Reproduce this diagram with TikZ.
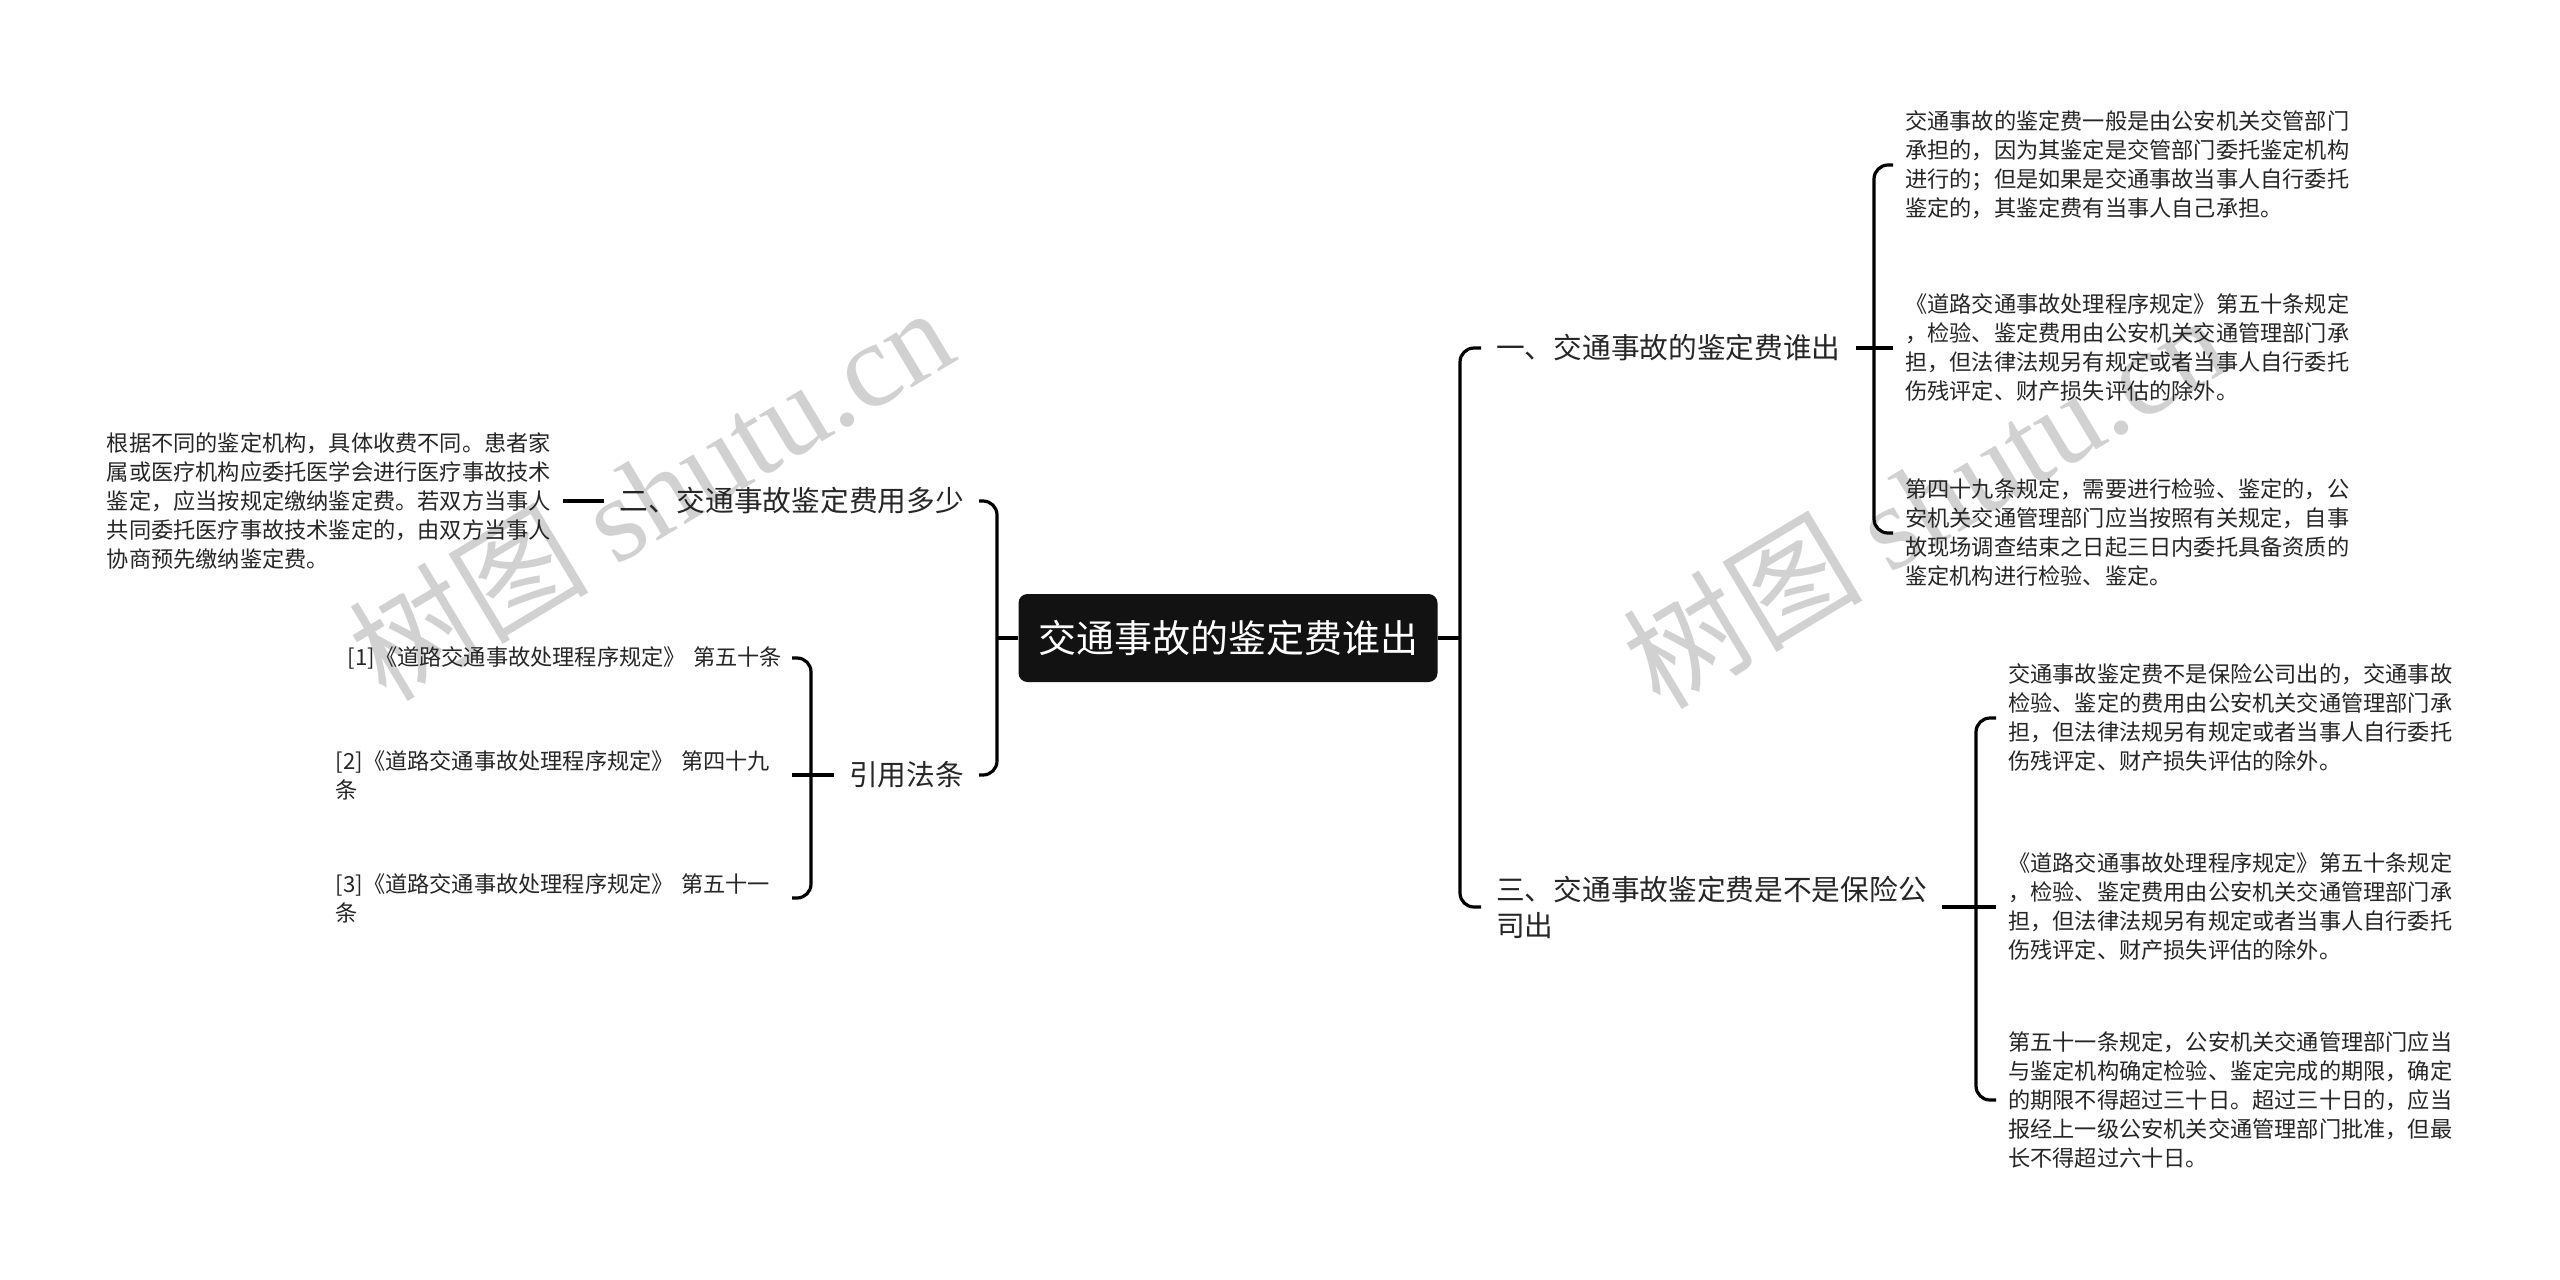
\documentclass[tikz,border=0pt]{standalone}
\usepackage{fontspec}
\setmainfont{Noto Sans CJK SC}
\newfontfamily\wmserif{Liberation Serif}
\begin{document}
\begin{tikzpicture}[x=1pt,y=-1pt,
  conn/.style={line width=3.2pt, draw=black},
  brk/.style={conn, rounded corners=14pt},
  rootbox/.style={fill=black!93, rounded corners=9pt, text=white, font=\fontsize{38}{44}\selectfont, minimum width=419pt, minimum height=88pt, inner sep=0pt},
  lvone/.style={font=\fontsize{28.7}{36}\selectfont, align=left, inner xsep=15pt, inner ysep=4pt, text=black!85},
  leaf/.style={font=\fontsize{22.2}{29}\selectfont, align=left, inner xsep=12pt, inner ysep=4pt, text=black!85},
  cite/.style={leaf, anchor=east, inner xsep=0pt, text width=456pt},
  wm/.style={text=black!18, rotate=31, font=\fontsize{120}{120}\selectfont}
]
\fill[white] (0,0) rectangle (2560,1280);
\useasboundingbox (0,0) rectangle (2560,1280);

% watermarks
\node[wm] (wm1) at (650,492) {树图 {\wmserif shutu.cn}};
\node[wm] (wm2) at (1924,500) {树图 {\wmserif shutu.cn}};

% root
\node[rootbox] (root) at (1228,638) {交通事故的鉴定费谁出};

% right level one
\node[lvone, anchor=west] (a1) at (1481,348) {一、交通事故的鉴定费谁出};
\node[lvone, anchor=west] (a3) at (1481,907) {三、交通事故鉴定费是不是保险公\\司出};

% right leaves (upper)
\node[leaf, anchor=west] (c1) at (1893,165) {交通事故的鉴定费一般是由公安机关交管部门\\承担的，因为其鉴定是交管部门委托鉴定机构\\进行的；但是如果是交通事故当事人自行委托\\鉴定的，其鉴定费有当事人自己承担。};
\node[leaf, anchor=west] (c2) at (1893,348) {《道路交通事故处理程序规定》第五十条规定\\，检验、鉴定费用由公安机关交通管理部门承\\担，但法律法规另有规定或者当事人自行委托\\伤残评定、财产损失评估的除外。};
\node[leaf, anchor=west] (c3) at (1893,533) {第四十九条规定，需要进行检验、鉴定的，公\\安机关交通管理部门应当按照有关规定，自事\\故现场调查结束之日起三日内委托具备资质的\\鉴定机构进行检验、鉴定。};

% right leaves (lower)
\node[leaf, anchor=west] (d1) at (1996,718) {交通事故鉴定费不是保险公司出的，交通事故\\检验、鉴定的费用由公安机关交通管理部门承\\担，但法律法规另有规定或者当事人自行委托\\伤残评定、财产损失评估的除外。};
\node[leaf, anchor=west] (d2) at (1996,907) {《道路交通事故处理程序规定》第五十条规定\\，检验、鉴定费用由公安机关交通管理部门承\\担，但法律法规另有规定或者当事人自行委托\\伤残评定、财产损失评估的除外。};
\node[leaf, anchor=west] (d3) at (1996,1100) {第五十一条规定，公安机关交通管理部门应当\\与鉴定机构确定检验、鉴定完成的期限，确定\\的期限不得超过三十日。超过三十日的，应当\\报经上一级公安机关交通管理部门批准，但最\\长不得超过六十日。};

% left level one
\node[lvone, anchor=east] (b2) at (979,501) {二、交通事故鉴定费用多少};
\node[lvone, anchor=east] (b3) at (979,775) {引用法条};

% left leaves
\node[leaf, anchor=east] (l1) at (563,501) {根据不同的鉴定机构，具体收费不同。患者家\\属或医疗机构应委托医学会进行医疗事故技术\\鉴定，应当按规定缴纳鉴定费。若双方当事人\\共同委托医疗事故技术鉴定的，由双方当事人\\协商预先缴纳鉴定费。};
\node[cite] (e1) at (792,658) {\hspace*{12pt}[1]《道路交通事故处理程序规定》 第五十条};
\node[cite] (e2) at (792,775) {[2]《道路交通事故处理程序规定》 第四十九\\条};
\node[cite] (e3) at (792,898) {[3]《道路交通事故处理程序规定》 第五十一\\条};

% connectors right
\coordinate (rs) at (1460,638);
\draw[conn] (root.east) -- (rs);
\draw[brk] (a1.west) -| (rs) |- (a3.west);

\coordinate (s1) at (1874,348);
\draw[conn] (a1.east) -- (s1) -- (c2.west);
\draw[brk] (c1.west) -| (s1) |- (c3.west);

\coordinate (s3) at (1976,907);
\draw[conn] (a3.east) -- (s3) -- (d2.west);
\draw[brk] (d1.west) -| (s3) |- (d3.west);

% connectors left
\coordinate (ls) at (997,638);
\draw[conn] (root.west) -- (ls);
\draw[brk] (b2.east) -| (ls) |- (b3.east);
\draw[conn] (b2.west) -- (l1.east);

\coordinate (cs) at (811,775);
\draw[conn] (b3.west) -- (cs) -- (e2.east);
\draw[brk] (e1.east) -| (cs) |- (e3.east);
\end{tikzpicture}
\end{document}
